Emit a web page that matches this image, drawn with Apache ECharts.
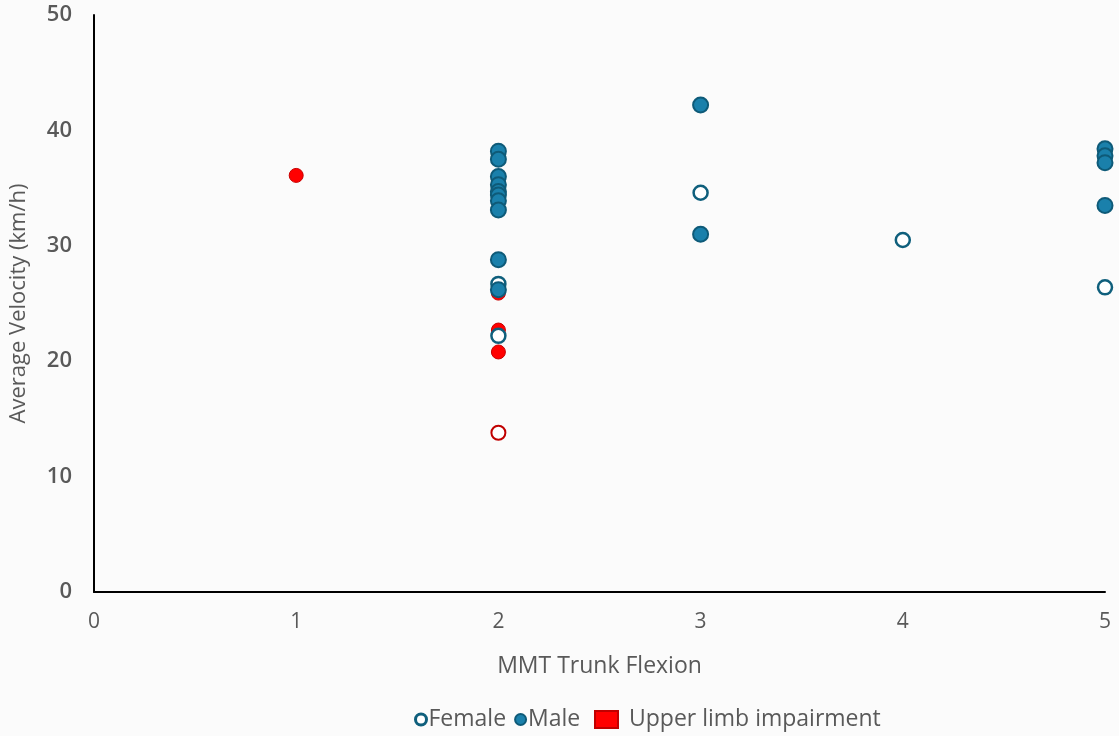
<!DOCTYPE html>
<html>
<head>
<meta charset="utf-8">
<script src="https://cdn.jsdelivr.net/npm/echarts@6/dist/echarts.min.js"></script>
<style>
  html, body { margin: 0; padding: 0; background: #fbfbfb; }
  #chart { width: 1119px; height: 736px; }
</style>
</head>
<body>
<div id="chart"></div>
<script>
// [MMT trunk flexion, average velocity km/h]
const female = [[2, 26.7], [2, 22.2], [3, 34.6], [4, 30.5], [5, 26.4]]
const male = [
  [2, 38.2], [2, 37.5], [2, 36.0], [2, 35.3], [2, 34.7], [2, 34.4], [2, 33.9], [2, 33.1],
  [2, 28.8], [2, 26.2],
  [3, 42.2], [3, 31.0],
  [5, 38.4], [5, 37.8], [5, 37.2], [5, 33.5]
]
const upperLimbMale = [[1, 36.1], [2, 25.9], [2, 22.7], [2, 20.8]]
const upperLimbFemale = [[2, 13.8]]
const xTicks = [0, 1, 2, 3, 4, 5]
const yTicks = [0, 10, 20, 30, 40, 50]

const FONT = '"Open Sans", "Noto Sans", sans-serif'
const legendText = { fontFamily: FONT, fontSize: 23, color: '#595959' }
const chart = echarts.init(document.getElementById('chart'))

chart.setOption({
  backgroundColor: '#fbfbfb',
  animation: false,
  grid: { left: 93, right: 14, top: 15, bottom: 144, containLabel: false },
  legend: [
    {
      bottom: 0,
      left: 409,
      itemGap: 8,
      itemWidth: 11,
      itemHeight: 11,
      textStyle: Object.assign({ padding: [0, 0, 0, -3] }, legendText),
      data: [
        { name: 'Female', icon: 'circle', itemStyle: { color: '#fff', borderColor: '#0f5f7c', borderWidth: 3 } },
        { name: 'Male', icon: 'circle' }
      ]
    },
    {
      bottom: 0,
      left: 589,
      itemWidth: 23,
      itemHeight: 17,
      textStyle: Object.assign({ padding: [0, 0, 0, 6] }, legendText),
      data: [
        { name: 'Upper limb impairment', icon: 'rect',
          itemStyle: { color: '#ff0000', borderColor: '#c00000', borderWidth: 2 } }
      ]
    }
  ],
  xAxis: {
    type: 'value',
    min: xTicks[0],
    max: xTicks[xTicks.length - 1],
    interval: 1,
    name: 'MMT Trunk Flexion',
    nameLocation: 'middle',
    nameGap: 63,
    nameTextStyle: { fontFamily: FONT, fontSize: 23, color: '#595959' },
    axisLine: { show: true, lineStyle: { color: '#000', width: 2 } },
    axisTick: { show: false },
    splitLine: { show: false },
    axisLabel: {
      margin: 20,
      fontFamily: FONT,
      fontSize: 21,
      color: '#595959'
    }
  },
  yAxis: {
    type: 'value',
    min: yTicks[0],
    max: yTicks[yTicks.length - 1],
    interval: 10,
    name: 'Average Velocity (km/h)',
    nameLocation: 'middle',
    nameGap: 64,
    nameTextStyle: { fontFamily: FONT, fontSize: 22, color: '#595959' },
    axisLine: { show: true, lineStyle: { color: '#000', width: 2 } },
    axisTick: { show: false },
    splitLine: { show: false },
    axisLabel: {
      margin: 22,
      fontFamily: FONT,
      fontWeight: 600,
      fontSize: 22,
      color: '#595959'
    }
  },
  series: [
    {
      name: 'Female',
      type: 'scatter',
      symbol: 'circle',
      symbolSize: 14,
      data: female,
      itemStyle: { color: '#ffffff', borderColor: '#0f5f7c', borderWidth: 2.5, opacity: 1 },
      z: 3
    },
    {
      name: 'Male',
      type: 'scatter',
      symbol: 'circle',
      symbolSize: 15,
      data: male,
      itemStyle: { color: '#1a80ab', borderColor: '#0e5a78', borderWidth: 2, opacity: 1 },
      z: 4
    },
    {
      name: 'Upper limb impairment',
      type: 'scatter',
      symbol: 'circle',
      symbolSize: 14,
      data: upperLimbMale,
      itemStyle: { color: '#ff0000', borderColor: '#c80000', borderWidth: 1, opacity: 1 },
      z: 2
    },
    {
      name: 'Upper limb impairment',
      type: 'scatter',
      symbol: 'circle',
      symbolSize: 14,
      data: upperLimbFemale,
      itemStyle: { color: '#ffffff', borderColor: '#c00000', borderWidth: 2, opacity: 1 },
      z: 2
    }
  ]
})
</script>
</body>
</html>
